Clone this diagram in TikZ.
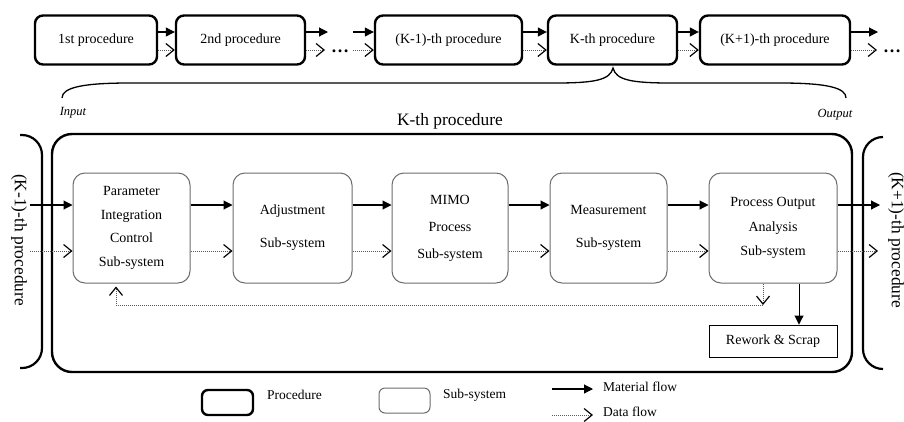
\documentclass[tikz,border=0pt]{standalone}
\usepackage{fontspec}
\setmainfont{Liberation Serif}
\usetikzlibrary{arrows.meta}
\begin{document}
\begin{tikzpicture}[x=1pt,y=-1pt,
  fnt/.style={font=\fontsize{14}{16}\selectfont},
  proc/.style={draw=black, line width=2.4pt, rounded corners=8pt, minimum height=49pt, inner sep=0pt, fnt},
  sub/.style={draw=gray!85!black, line width=1pt, rounded corners=12pt, minimum height=110pt, inner sep=0pt, align=center},
  mat/.style={draw=black, line width=1.1pt, -{Triangle[length=9pt,width=9pt]}},
  dat/.style={draw=gray!70!black, line width=0.9pt, dash pattern=on 1pt off 1pt, -{Straight Barb[length=8pt,width=13pt,line width=1.2pt,color=black]}},
  dotsfnt/.style={font=\fontsize{18}{20}\bfseries\selectfont, anchor=base, inner sep=0pt},
  bracket/.style={draw=black, line width=2.2pt, rounded corners=20pt},
]
\useasboundingbox (0,0) rectangle (904,421);

% top row of procedures
\node[proc, minimum width=122pt] (p1) at (96,40) {1st procedure};
\node[proc, minimum width=129pt] (p2) at (240.5,40) {2nd procedure};
\node[proc, minimum width=147pt] (p3) at (448.5,40) {(K-1)-th procedure};
\node[proc, minimum width=129pt] (p4) at (612.5,40) {K-th procedure};
\node[proc, minimum width=150pt] (p5) at (775,40) {(K+1)-th procedure};
\node[dotsfnt] (dots1) at (340,52) {…};
\node[dotsfnt] (dots2) at (892,52) {…};
\coordinate (d1a) at (328,32);
\coordinate (d1b) at (325,50);
\coordinate (d2a) at (353,32);
\coordinate (d2b) at (353,50);
\coordinate (e1) at (878,32);
\coordinate (e2) at (877,50);

\draw[mat] ([yshift=8pt]p1.east) -- ([yshift=8pt]p2.west);
\draw[dat] ([yshift=-10pt]p1.east) -- ([yshift=-10pt]p2.west);
\draw[mat] ([yshift=8pt]p2.east) -- (d1a);
\draw[dat] ([yshift=-10pt]p2.east) -- (d1b);
\draw[mat] (d2a) -- ([yshift=8pt]p3.west);
\draw[dat] (d2b) -- ([yshift=-10pt]p3.west);
\draw[mat] ([yshift=8pt]p3.east) -- ([yshift=8pt]p4.west);
\draw[dat] ([yshift=-10pt]p3.east) -- ([yshift=-10pt]p4.west);
\draw[mat] ([yshift=8pt]p4.east) -- ([yshift=8pt]p5.west);
\draw[dat] ([yshift=-10pt]p4.east) -- ([yshift=-10pt]p5.west);
\draw[mat] ([yshift=8pt]p5.east) -- (e1);
\draw[dat] ([yshift=-10pt]p5.east) -- (e2);

% brace
\draw[line width=1.3pt] (62,98) .. controls (62,87) and (85,83) .. (130,83)
  -- (555,83) .. controls (595,83) and (610,80) .. (613,68)
  .. controls (616,80) and (631,83) .. (671,83)
  -- (780,83) .. controls (828,83) and (846,88) .. (846,98);
\node[font=\itshape\fontsize{12.5}{14}\selectfont] (inp) at (73,113) {Input};
\node[font=\itshape\fontsize{12.5}{14}\selectfont] (outp) at (835,115) {Output};

% big K-th procedure box
\node[font=\fontsize{17.4}{20}\selectfont] (ktitle) at (450,121) {K-th procedure};
\node[draw=black, line width=2.4pt, rounded corners=20pt, minimum width=800pt, minimum height=238pt, inner sep=0pt] (kbox) at (452,253) {};

% neighbouring procedures
\draw[bracket] (20,135) -- (42,135) -- (42,368) -- (20,368);
\draw[bracket] (883,137) -- (863,137) -- (863,369) -- (883,369);
\node[font=\fontsize{17.4}{20}\selectfont, rotate=-90] (prev) at (19,240) {(K-1)-th procedure};
\node[font=\fontsize{17.4}{20}\selectfont, rotate=-90] (next) at (896,240) {(K+1)-th procedure};

% sub-systems
\node[sub, minimum width=117pt, font=\fontsize{14}{23.7}\selectfont] (b1) at (131.5,228) {Parameter\\Integration\\Control\\Sub-system};
\node[sub, minimum width=119pt, font=\fontsize{14}{33}\selectfont] (b2) at (292.5,228) {Adjustment\\Sub-system};
\node[sub, minimum width=116pt, font=\fontsize{14}{27}\selectfont] (b3) at (450,228) {MIMO\\Process\\Sub-system};
\node[sub, minimum width=117pt, font=\fontsize{14}{33}\selectfont] (b4) at (608.5,228) {Measurement\\Sub-system};
\node[sub, minimum width=128pt, font=\fontsize{14}{24.5}\selectfont] (b5) at (773,228) {Process Output\\Analysis\\Sub-system};
\node[draw=black, line width=0.9pt, minimum width=128pt, minimum height=32pt, inner sep=0pt, fnt] (rw) at (773,341) {Rework \& Scrap};

\coordinate (in1) at (30,205);
\coordinate (in2) at (30,251);
\coordinate (out1) at (880,205);
\coordinate (out2) at (878,251);
\draw[mat] (in1) -- ([yshift=23pt]b1.west);
\draw[dat] (in2) -- ([yshift=-23pt]b1.west);
\draw[mat] ([yshift=23pt]b1.east) -- ([yshift=23pt]b2.west);
\draw[dat] ([yshift=-23pt]b1.east) -- ([yshift=-23pt]b2.west);
\draw[mat] ([yshift=23pt]b2.east) -- ([yshift=23pt]b3.west);
\draw[dat] ([yshift=-23pt]b2.east) -- ([yshift=-23pt]b3.west);
\draw[mat] ([yshift=23pt]b3.east) -- ([yshift=23pt]b4.west);
\draw[dat] ([yshift=-23pt]b3.east) -- ([yshift=-23pt]b4.west);
\draw[mat] ([yshift=23pt]b4.east) -- ([yshift=23pt]b5.west);
\draw[dat] ([yshift=-23pt]b4.east) -- ([yshift=-23pt]b5.west);
\draw[mat] ([yshift=23pt]b5.east) -- (out1);
\draw[dat] ([yshift=-23pt]b5.east) -- (out2);

% feedback and rework
\coordinate (fb1) at (763,305);
\coordinate (fb2) at (116,305);
\draw[dat] (b5.south -| fb1) -- (fb1);
\draw[dat, shorten >=3pt] (fb1) -- (fb2) -- (b1.south -| fb2);
\draw[mat, line width=0.9pt] ([xshift=26pt]b5.south) -- ([xshift=26pt]rw.north);

% legend
\node[draw=black, line width=2.4pt, rounded corners=6pt, minimum width=51pt, minimum height=25pt, inner sep=0pt] (lp) at (227.5,402.5) {};
\node[font=\fontsize{13.5}{15}\selectfont, anchor=west, inner sep=0pt] (lpt) at (267,395) {Procedure};
\node[draw=gray!85!black, line width=1pt, rounded corners=6pt, minimum width=51pt, minimum height=25pt, inner sep=0pt] (ls) at (404.5,400.5) {};
\node[font=\fontsize{13.5}{15}\selectfont, anchor=west, inner sep=0pt] (lst) at (443,395) {Sub-system};
\node[font=\fontsize{13.5}{15}\selectfont, anchor=west, inner sep=0pt] (lmt) at (603,387) {Material flow};
\node[font=\fontsize{13.5}{15}\selectfont, anchor=west, inner sep=0pt] (ldt) at (603,412) {Data flow};
\coordinate (lm1) at (552,389);
\coordinate (lm2) at (593,389);
\coordinate (ld1) at (552,415);
\coordinate (ld2) at (593,415);
\draw[mat] (lm1) -- (lm2);
\draw[dat] (ld1) -- (ld2);
\end{tikzpicture}
\end{document}
